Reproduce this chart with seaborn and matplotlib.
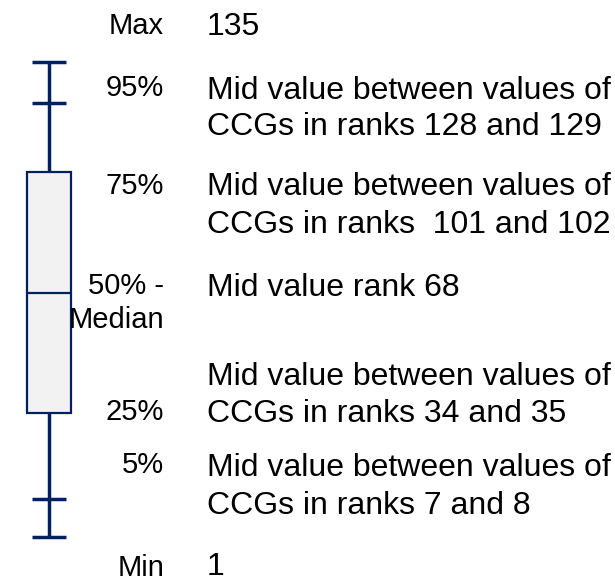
import matplotlib
matplotlib.use("Agg")
import matplotlib.pyplot as plt
import seaborn as sns

# schematic heights of each statistic on the key (display scale, top = 0)
STAT_NAMES = ["Min", "5%", "25%", "50%", "75%", "95%", "Max"]
STAT_LEVELS = [537, 499, 413, 293, 172, 103, 62]

# labels on the left of the key and their descriptions on the right
LEFT_LABELS = ["Max", "95%", "75%", "50% -\nMedian", "25%", "5%", "Min"]
LEFT_Y = [26, 88, 186, 303, 412, 465, 568]
RIGHT_LINES = [
    ("135", 27),
    ("Mid value between values of", 91),
    ("CCGs in ranks 128 and 129", 127),
    ("Mid value between values of", 187),
    ("CCGs in ranks  101 and 102", 225),
    ("Mid value rank 68", 288),
    ("Mid value between values of", 377),
    ("CCGs in ranks 34 and 35", 414),
    ("Mid value between values of", 468),
    ("CCGs in ranks 7 and 8", 506),
    ("1", 567),
]

NAVY = "#002060"
BOX_FILL = "#F2F2F2"

sns.set_style("white")
plt.rcParams["font.family"] = ["Liberation Sans", "DejaVu Sans"]

fig = plt.figure(figsize=(6.15, 5.82), dpi=100)
ax = fig.add_axes([0, 0, 1, 1])

lv = dict(zip(STAT_NAMES, STAT_LEVELS))
box_data = [lv["Min"], lv["25%"], lv["50%"], lv["75%"], lv["Max"]]

sns.boxplot(
    y=box_data, whis=(0, 100), width=0.8, color=BOX_FILL, saturation=1,
    linecolor=NAVY, linewidth=1.6,
    whiskerprops={"linewidth": 2.5, "color": NAVY},
    capprops={"visible": False},
    medianprops={"linewidth": 1.6, "color": NAVY},
    ax=ax,
)

# caps for min, 5%, 95%, max
for name in ["Min", "5%", "95%", "Max"]:
    ax.hlines(lv[name], -0.31, 0.31, color=NAVY, linewidth=2.5, zorder=5)

ax.set_xlim(-49 / 55, (615 - 49) / 55)
ax.set_ylim(582, 0)
ax.axis("off")

px = lambda x: x / 615
py = lambda y: 1 - y / 582

for lab, y in zip(LEFT_LABELS, LEFT_Y):
    fig.text(px(164), py(y), lab, ha="right", va="center", fontsize=21,
             multialignment="right", linespacing=1.3, color="black")

for txt, y in RIGHT_LINES:
    fig.text(px(207), py(y), txt, ha="left", va="center", fontsize=23,
             color="black")

fig.savefig("out.png", dpi=100)
